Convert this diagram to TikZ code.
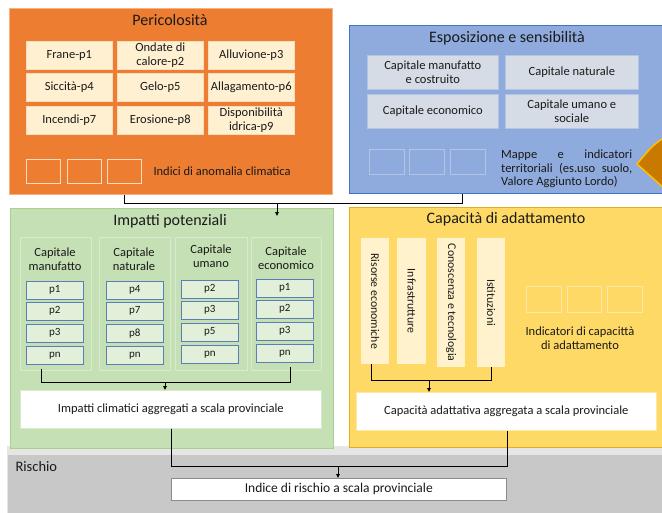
\documentclass[tikz,border=0pt]{standalone}
\usepackage{fontspec}
\setmainfont{Carlito}
\usetikzlibrary{arrows.meta}
\definecolor{orangeA}{HTML}{ED7D31}
\definecolor{orangeB}{HTML}{F4B183}
\definecolor{creamA}{HTML}{FFF0D2}
\definecolor{creamB}{HTML}{FADCC0}
\definecolor{blueA}{HTML}{8FAADC}
\definecolor{blueB}{HTML}{4472C4}
\definecolor{blueC}{HTML}{D6DCE5}
\definecolor{blueD}{HTML}{B4C4E4}
\definecolor{greenA}{HTML}{C5E0B4}
\definecolor{greenB}{HTML}{A9D18E}
\definecolor{greenC}{HTML}{D8EACC}
\definecolor{greenD}{HTML}{E2F0D9}
\definecolor{pblue}{HTML}{5B7DB8}
\definecolor{yellowA}{HTML}{FFD966}
\definecolor{yellowB}{HTML}{E3AE1E}
\definecolor{yellowC}{HTML}{FFF2CC}
\definecolor{yellowD}{HTML}{FFE8A6}
\definecolor{grayA}{HTML}{C8C8C8}
\definecolor{grayB}{HTML}{E6E6E6}
\definecolor{grayC}{HTML}{8C8C8C}
\definecolor{wedge}{HTML}{C87A00}
\definecolor{wedgeB}{HTML}{FFC000}
\definecolor{ink}{HTML}{1A1A1A}
\tikzset{
  box/.style n args={2}{rectangle, anchor=north west, inner sep=0pt, minimum width=#1, minimum height=#2},
  ttl/.style={font=\fontsize{16}{18}\selectfont, text=ink},
  txt/.style={font=\fontsize{12.5}{13.5}\selectfont, align=center, text=ink},
  ptxt/.style={font=\fontsize{11}{12}\selectfont, text=ink},
  cell/.style={fill=creamA, draw=creamB, line width=0.6pt},
  sq/.style={draw=#1, line width=0.8pt},
  ecell/.style={fill=blueC, draw=blueD, line width=0.6pt},
  colpanel/.style={fill=greenA, draw=greenC, line width=0.8pt},
  pbox/.style={fill=greenD, draw=pblue, line width=0.6pt},
  bar/.style={fill=yellowC, draw=none},
  wbox/.style={fill=white, draw=#1, line width=0.6pt},
  conn/.style={draw=black, line width=0.9pt},
  arr/.style={conn, -{Triangle[length=4pt,width=3.5pt]}}
}
\begin{document}
\begin{tikzpicture}[x=1pt,y=-1pt]
\useasboundingbox (0,0) rectangle (662,512);
\fill[white] (0,0) rectangle (662,512);

% ---------- Rischio background ----------
\node[box={656pt}{66pt}, fill=grayB] (risstrip) at (7,446) {};
\node[box={656pt}{60pt}, fill=grayA, draw=grayB, line width=1pt] (rischio) at (7,454) {};
\node[anchor=west, font=\fontsize{14.5}{16}\selectfont, text=ink] (ristitle) at (12,467) {Rischio};

% ---------- Pericolosita ----------
\node[box={323pt}{186pt}, fill=orangeA, draw=orangeB, line width=0.6pt] (peri) at (9,8) {};
\node[ttl] (perititle) at (170,20) {Pericolosità};
\node[box={86pt}{28pt}, cell, txt] (c11) at (26,41) {Frane-p1};
\node[box={86pt}{28pt}, cell, txt] (c12) at (117,41) {Ondate di\\calore-p2};
\node[box={86pt}{28pt}, cell, txt] (c13) at (208,41) {Alluvione-p3};
\node[box={86pt}{28pt}, cell, txt] (c21) at (26,73) {Siccità-p4};
\node[box={86pt}{28pt}, cell, txt] (c22) at (117,73) {Gelo-p5};
\node[box={86pt}{28pt}, cell, txt] (c23) at (208,73) {Allagamento-p6};
\node[box={86pt}{28pt}, cell, txt] (c31) at (26,106) {Incendi-p7};
\node[box={86pt}{28pt}, cell, txt] (c32) at (117,106) {Erosione-p8};
\node[box={86pt}{28pt}, cell, txt] (c33) at (208,106) {Disponibilità\\idrica-p9};
\node[box={34pt}{24pt}, sq=creamB] (ps1) at (26,159) {};
\node[box={34pt}{24pt}, sq=creamB] (ps2) at (67,159) {};
\node[box={34pt}{24pt}, sq=creamB] (ps3) at (107,159) {};
\node[anchor=west, txt] (pind) at (150,171) {Indici di anomalia climatica};

% ---------- Esposizione ----------
\node[box={316pt}{168pt}, fill=blueA, draw=blueB, line width=0.8pt] (espo) at (349,25) {};
\node[ttl] (espotitle) at (507,38) {Esposizione e sensibilità};
\node[box={131pt}{34pt}, ecell, txt] (e11) at (367,55) {Capitale manufatto\\e costruito};
\node[box={133pt}{34pt}, ecell, txt] (e12) at (505,55) {Capitale naturale};
\node[box={131pt}{34pt}, ecell, txt] (e21) at (367,94) {Capitale economico};
\node[box={133pt}{34pt}, ecell, txt] (e22) at (505,94) {Capitale umano e\\sociale};
\node[box={35pt}{25pt}, sq=blueD] (es1) at (369,149) {};
\node[box={35pt}{25pt}, sq=blueD] (es2) at (409,149) {};
\node[box={35pt}{25pt}, sq=blueD] (es3) at (450,149) {};
\node[anchor=west, font=\fontsize{12.5}{13.5}\selectfont, text=ink, text width=131pt, align=justify, inner sep=0pt] (emap) at (501,169) {Mappe e indicatori\linebreak territoriali (es.uso suolo,\linebreak Valore Aggiunto Lordo)};
\fill[wedge, draw=wedgeB, line width=1.5pt] (666,136) .. controls (652,146) .. (637,164) -- (666,190) -- cycle;

% ---------- Impatti potenziali ----------
\node[box={323pt}{240pt}, fill=greenA, draw=greenB, line width=0.8pt] (imp) at (10,208) {};
\node[ttl] (imptitle) at (170,221) {Impatti potenziali};
\node[box={71pt}{133pt}, colpanel] (col1) at (20,237) {};
\node[box={71pt}{133pt}, colpanel] (col2) at (99,237) {};
\node[box={72pt}{133pt}, colpanel] (col3) at (175,237) {};
\node[box={70pt}{133pt}, colpanel] (col4) at (251,237) {};
\node[txt] (h1) at (55,259) {Capitale\\manufatto};
\node[txt] (h2) at (134,259) {Capitale\\naturale};
\node[txt] (h3) at (211,256) {Capitale\\umano};
\node[txt] (h4) at (286,258) {Capitale\\economico};
% p boxes
\node[box={57pt}{18pt}, pbox, ptxt] (a1) at (26,281) {p1};
\node[box={57pt}{18pt}, pbox, ptxt] (a2) at (26,302) {p2};
\node[box={57pt}{18pt}, pbox, ptxt] (a3) at (26,324) {p3};
\node[box={57pt}{18pt}, pbox, ptxt] (a4) at (26,346) {pn};
\node[box={57pt}{18pt}, pbox, ptxt] (b1) at (106,281) {p4};
\node[box={57pt}{18pt}, pbox, ptxt] (b2) at (106,302) {p7};
\node[box={57pt}{18pt}, pbox, ptxt] (b3) at (106,324) {p8};
\node[box={57pt}{18pt}, pbox, ptxt] (b4) at (106,346) {pn};
\node[box={57pt}{18pt}, pbox, ptxt] (d1) at (181,280) {p2};
\node[box={57pt}{18pt}, pbox, ptxt] (d2) at (181,301) {p3};
\node[box={57pt}{18pt}, pbox, ptxt] (d3) at (181,323) {p5};
\node[box={57pt}{18pt}, pbox, ptxt] (d4) at (181,345) {pn};
\node[box={57pt}{18pt}, pbox, ptxt] (f1) at (256,279) {p1};
\node[box={57pt}{18pt}, pbox, ptxt] (f2) at (256,300) {p2};
\node[box={57pt}{18pt}, pbox, ptxt] (f3) at (256,322) {p3};
\node[box={57pt}{18pt}, pbox, ptxt] (f4) at (256,344) {pn};
\node[box={301pt}{38pt}, wbox=greenC, txt] (impagg) at (20,390) {Impatti climatici aggregati a scala provinciale};

% ---------- Capacita di adattamento ----------
\node[box={316pt}{240pt}, fill=yellowA, draw=yellowB, line width=0.8pt] (cap) at (349,207) {};
\node[ttl] (captitle) at (506,219) {Capacità di adattamento};
\node[box={28pt}{126pt}, bar] (bar1) at (361,238) {};
\node[box={29pt}{126pt}, bar] (bar2) at (397,238) {};
\node[box={28pt}{129pt}, bar] (bar3) at (437,238) {};
\node[box={28pt}{129pt}, bar] (bar4) at (477,238) {};
\node[txt, font=\fontsize{11.8}{13}\selectfont, rotate=-90] (bt1) at (bar1.center) {Risorse economiche};
\node[txt, font=\fontsize{11.8}{13}\selectfont, rotate=-90] (bt2) at (bar2.center) {Infrastrutture};
\node[txt, font=\fontsize{11.8}{13}\selectfont, rotate=-90] (bt3) at (bar3.center) {Conoscenza e tecnologia};
\node[txt, font=\fontsize{11.8}{13}\selectfont, rotate=-90] (bt4) at (bar4.center) {Istituzioni};
\node[box={35pt}{26pt}, sq=yellowD] (ys1) at (526,286) {};
\node[box={34pt}{26pt}, sq=yellowD] (ys2) at (567,286) {};
\node[box={35pt}{26pt}, sq=yellowD] (ys3) at (607,286) {};
\node[txt] (yind) at (580,338) {Indicatori di capacittà\\di adattamento};
\node[box={300pt}{38pt}, wbox=yellowD, txt] (capagg) at (356,392) {Capacità adattativa aggregata a scala provinciale};

% ---------- Indice di rischio ----------
\node[box={335pt}{22pt}, wbox=grayC, txt, font=\fontsize{13.5}{15}\selectfont] (risidx) at (171,478) {Indice di rischio a scala provinciale};

% ---------- connectors ----------
\coordinate (pk) at (124,203);
\coordinate (ek) at (462,203);
\coordinate (ak) at (277,203);
\draw[conn] (peri.south -| pk) -- (pk) -- (ek) -- (espo.south -| ek);
\draw[arr] (ak) -- ([yshift=-8pt]imp.north -| ak);

\coordinate (gk1) at (41,382);
\coordinate (gk2) at (290,382);
\coordinate (gka) at (165,382);
\draw[conn] (a4.south -| gk1) ++(0,4) -- (gk1) -- (gk2) -- ([yshift=-4pt]f4.south -| gk2);
\draw[arr] (gka) -- (impagg.north -| gka);

\coordinate (yk1) at (371,380);
\coordinate (yk2) at (491,380);
\coordinate (yka) at (429,380);
\draw[conn] (bar1.south -| yk1) -- (yk1) -- (yk2) -- (bar4.south -| yk2);
\draw[arr] (yka) -- (capagg.north -| yka);

\coordinate (rk1) at (171,466);
\coordinate (rk2) at (507,466);
\coordinate (rka) at (338,466);
\draw[conn] (impagg.south -| rk1) -- (rk1) -- (rk2) -- (capagg.south -| rk2);
\draw[arr] (rka) -- (risidx.north -| rka);
\end{tikzpicture}
\end{document}
